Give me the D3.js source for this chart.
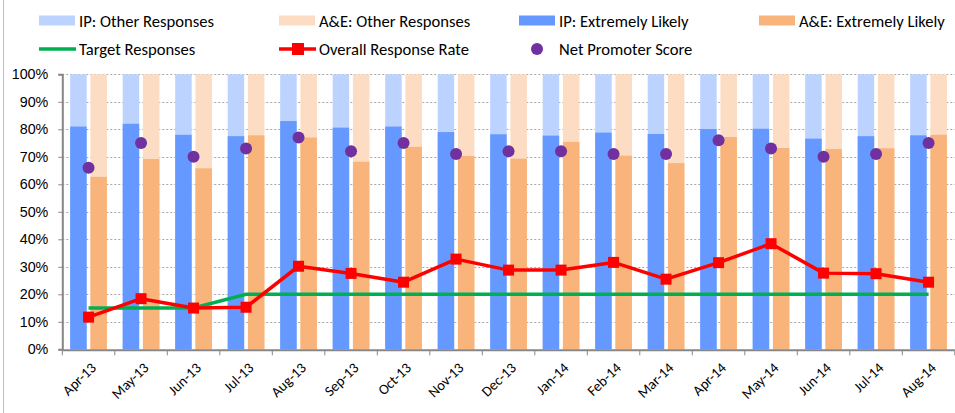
<!DOCTYPE html>
<html>
<head>
<meta charset="utf-8">
<script src="https://cdn.jsdelivr.net/npm/d3@7"></script>
<style>
  html, body { margin: 0; padding: 0; background: #fff; }
  svg { display: block; font-family: Carlito, Calibri, Lato, "Open Sans", sans-serif; }
</style>
</head>
<body>
<svg id="chart" width="955" height="413"></svg>
<script>
// Monthly Friends & Family Test results
const months = ["Apr-13","May-13","Jun-13","Jul-13","Aug-13","Sep-13","Oct-13","Nov-13","Dec-13",
                "Jan-14","Feb-14","Mar-14","Apr-14","May-14","Jun-14","Jul-14","Aug-14"];
const ipExtremelyLikely  = [81, 82, 78, 77.5, 83, 80.6, 81, 79, 78.2, 77.7, 78.8, 78.3, 80.1, 80.2, 76.6, 77.5, 77.8];
const aeExtremelyLikely  = [62.7, 69.2, 65.8, 77.8, 77, 68.2, 73.6, 70.3, 69.3, 75.4, 70.4, 67.7, 77.2, 73.2, 72.8, 73.1, 78];
const targetResponses    = [15, 15, 15, 20, 20, 20, 20, 20, 20, 20, 20, 20, 20, 20, 20, 20, 20];
const overallResponse    = [11.7, 18.4, 15, 15.3, 30.2, 27.6, 24.4, 32.8, 28.8, 28.8, 31.6, 25.5, 31.5, 38.4, 27.7, 27.5, 24.4];
const netPromoterScore   = [66, 75, 70, 73, 77, 72, 75, 71, 72, 72, 71, 71, 76, 73, 70, 71, 75];
const yTicks = [0, 10, 20, 30, 40, 50, 60, 70, 80, 90, 100];

const colors = {
  ipOther: "#BDD3FF", aeOther: "#FCDCC2",
  ip: "#6699FF", ae: "#F8B47A",
  target: "#00B050", rate: "#FF0000", nps: "#7030A0"
};

const svg = d3.select("#chart");
const plot = { left: 62.3, right: 954.8, top: 74.3, bottom: 349.3 };

const x0 = d3.scaleBand().domain(months).range([plot.left, plot.right])
  .paddingInner(0.3).paddingOuter(0.15);
const x1 = d3.scaleBand().domain(["ip", "ae"]).range([0, x0.bandwidth()]).paddingInner(0.185);
const y = d3.scaleLinear().domain([0, 100]).range([plot.bottom, plot.top]);
const step = x0.step();
const cx = m => x0(m) + x0.bandwidth() / 2;

// outer chart frame edge
svg.append("line").attr("x1", 3.5).attr("x2", 3.5).attr("y1", 0).attr("y2", 413)
  .attr("stroke", "#BFBFBF").attr("stroke-width", 1);

// horizontal gridlines
svg.append("g").selectAll("line").data(yTicks.filter(t => t > 0)).join("line")
  .attr("x1", plot.left).attr("x2", plot.right)
  .attr("y1", d => Math.round(y(d)) + 0.5).attr("y2", d => Math.round(y(d)) + 0.5)
  .attr("stroke", "#A6A6A6").attr("stroke-width", 1).attr("stroke-dasharray", "2,2");

// stacked bars: full-height "other" background, then "extremely likely" part
const groups = svg.append("g").selectAll("g").data(months).join("g")
  .attr("transform", m => `translate(${x0(m)},0)`);

groups.append("rect").attr("x", x1("ip")).attr("width", x1.bandwidth())
  .attr("y", y(100)).attr("height", y(0) - y(100)).attr("fill", colors.ipOther);
groups.append("rect").attr("x", x1("ae")).attr("width", x1.bandwidth())
  .attr("y", y(100)).attr("height", y(0) - y(100)).attr("fill", colors.aeOther);
groups.append("rect").attr("x", x1("ip")).attr("width", x1.bandwidth())
  .attr("y", (m, i) => y(ipExtremelyLikely[i]))
  .attr("height", (m, i) => y(0) - y(ipExtremelyLikely[i])).attr("fill", colors.ip);
groups.append("rect").attr("x", x1("ae")).attr("width", x1.bandwidth())
  .attr("y", (m, i) => y(aeExtremelyLikely[i]))
  .attr("height", (m, i) => y(0) - y(aeExtremelyLikely[i])).attr("fill", colors.ae);

// axes
const yAxis = d3.axisLeft(y).tickValues(yTicks).tickFormat(d => d + "%").tickSize(4).tickPadding(10);
const gy = svg.append("g").attr("transform", `translate(${plot.left},0)`).call(yAxis);
gy.select(".domain").attr("stroke", "#868686").attr("stroke-width", 2);
gy.selectAll(".tick line").attr("stroke", "#868686");
gy.selectAll("text").attr("font-size", 14.3).attr("fill", "#000").attr("font-family", null);

svg.append("line").attr("x1", plot.left).attr("x2", plot.right)
  .attr("y1", plot.bottom + 1).attr("y2", plot.bottom + 1)
  .attr("stroke", "#868686").attr("stroke-width", 2);
const tickXs = d3.range(months.length + 1).map(i => plot.left + i * step);
svg.append("g").selectAll("line").data(tickXs).join("line")
  .attr("x1", d => d).attr("x2", d => d)
  .attr("y1", plot.bottom + 1).attr("y2", plot.bottom + 6)
  .attr("stroke", "#868686").attr("stroke-width", 1);

svg.append("g").selectAll("text").data(months).join("text")
  .attr("transform", m => `translate(${cx(m) + 6},${plot.bottom + 17}) rotate(-44)`)
  .attr("text-anchor", "end").attr("dominant-baseline", "middle")
  .attr("font-size", 14.5).attr("fill", "#000").text(m => m);

// target line
const line = d3.line().x((d, i) => cx(months[i])).y(d => y(d));
svg.append("path").datum(targetResponses).attr("d", line)
  .attr("fill", "none").attr("stroke", colors.target).attr("stroke-width", 3.5);

// overall response rate line with square markers
svg.append("path").datum(overallResponse).attr("d", line)
  .attr("fill", "none").attr("stroke", colors.rate).attr("stroke-width", 3.5)
  .attr("stroke-linejoin", "round");
svg.append("g").selectAll("rect").data(overallResponse).join("rect")
  .attr("x", (d, i) => cx(months[i]) - 5.5).attr("y", d => y(d) - 5.5)
  .attr("width", 11).attr("height", 11).attr("fill", colors.rate);

// net promoter score markers
svg.append("g").selectAll("circle").data(netPromoterScore).join("circle")
  .attr("cx", (d, i) => cx(months[i])).attr("cy", d => y(d)).attr("r", 6)
  .attr("fill", colors.nps);

// legend
const legendItems = [
  { label: "IP: Other Responses", type: "rect", color: colors.ipOther, col: 0, row: 0 },
  { label: "A&E: Other Responses", type: "rect", color: colors.aeOther, col: 1, row: 0 },
  { label: "IP: Extremely Likely", type: "rect", color: colors.ip, col: 2, row: 0 },
  { label: "A&E: Extremely Likely", type: "rect", color: colors.ae, col: 3, row: 0 },
  { label: "Target Responses", type: "line", color: colors.target, col: 0, row: 1 },
  { label: "Overall Response Rate", type: "lineMarker", color: colors.rate, col: 1, row: 1 },
  { label: "Net Promoter Score", type: "dot", color: colors.nps, col: 2, row: 1 }
];
const lg = svg.append("g").selectAll("g").data(legendItems).join("g")
  .attr("transform", d => `translate(${39 + d.col * 240},${20.5 + d.row * 28.5})`);
lg.each(function(d) {
  const g = d3.select(this);
  if (d.type === "rect") {
    g.append("rect").attr("x", 0).attr("y", -5).attr("width", 36).attr("height", 10).attr("fill", d.color);
  } else if (d.type === "line") {
    g.append("line").attr("x1", 0).attr("x2", 37).attr("y1", 0).attr("y2", 0)
      .attr("stroke", d.color).attr("stroke-width", 3.5);
  } else if (d.type === "lineMarker") {
    g.append("line").attr("x1", 0).attr("x2", 37).attr("y1", 0).attr("y2", 0)
      .attr("stroke", d.color).attr("stroke-width", 3.5);
    g.append("rect").attr("x", 13).attr("y", -6).attr("width", 12).attr("height", 12).attr("fill", d.color);
  } else {
    g.append("circle").attr("cx", 18).attr("cy", 0).attr("r", 6).attr("fill", d.color);
  }
  g.append("text").attr("x", 40).attr("y", 0).attr("dominant-baseline", "central")
    .attr("font-size", 16.6).attr("fill", "#000").text(d.label);
});
</script>
</body>
</html>
